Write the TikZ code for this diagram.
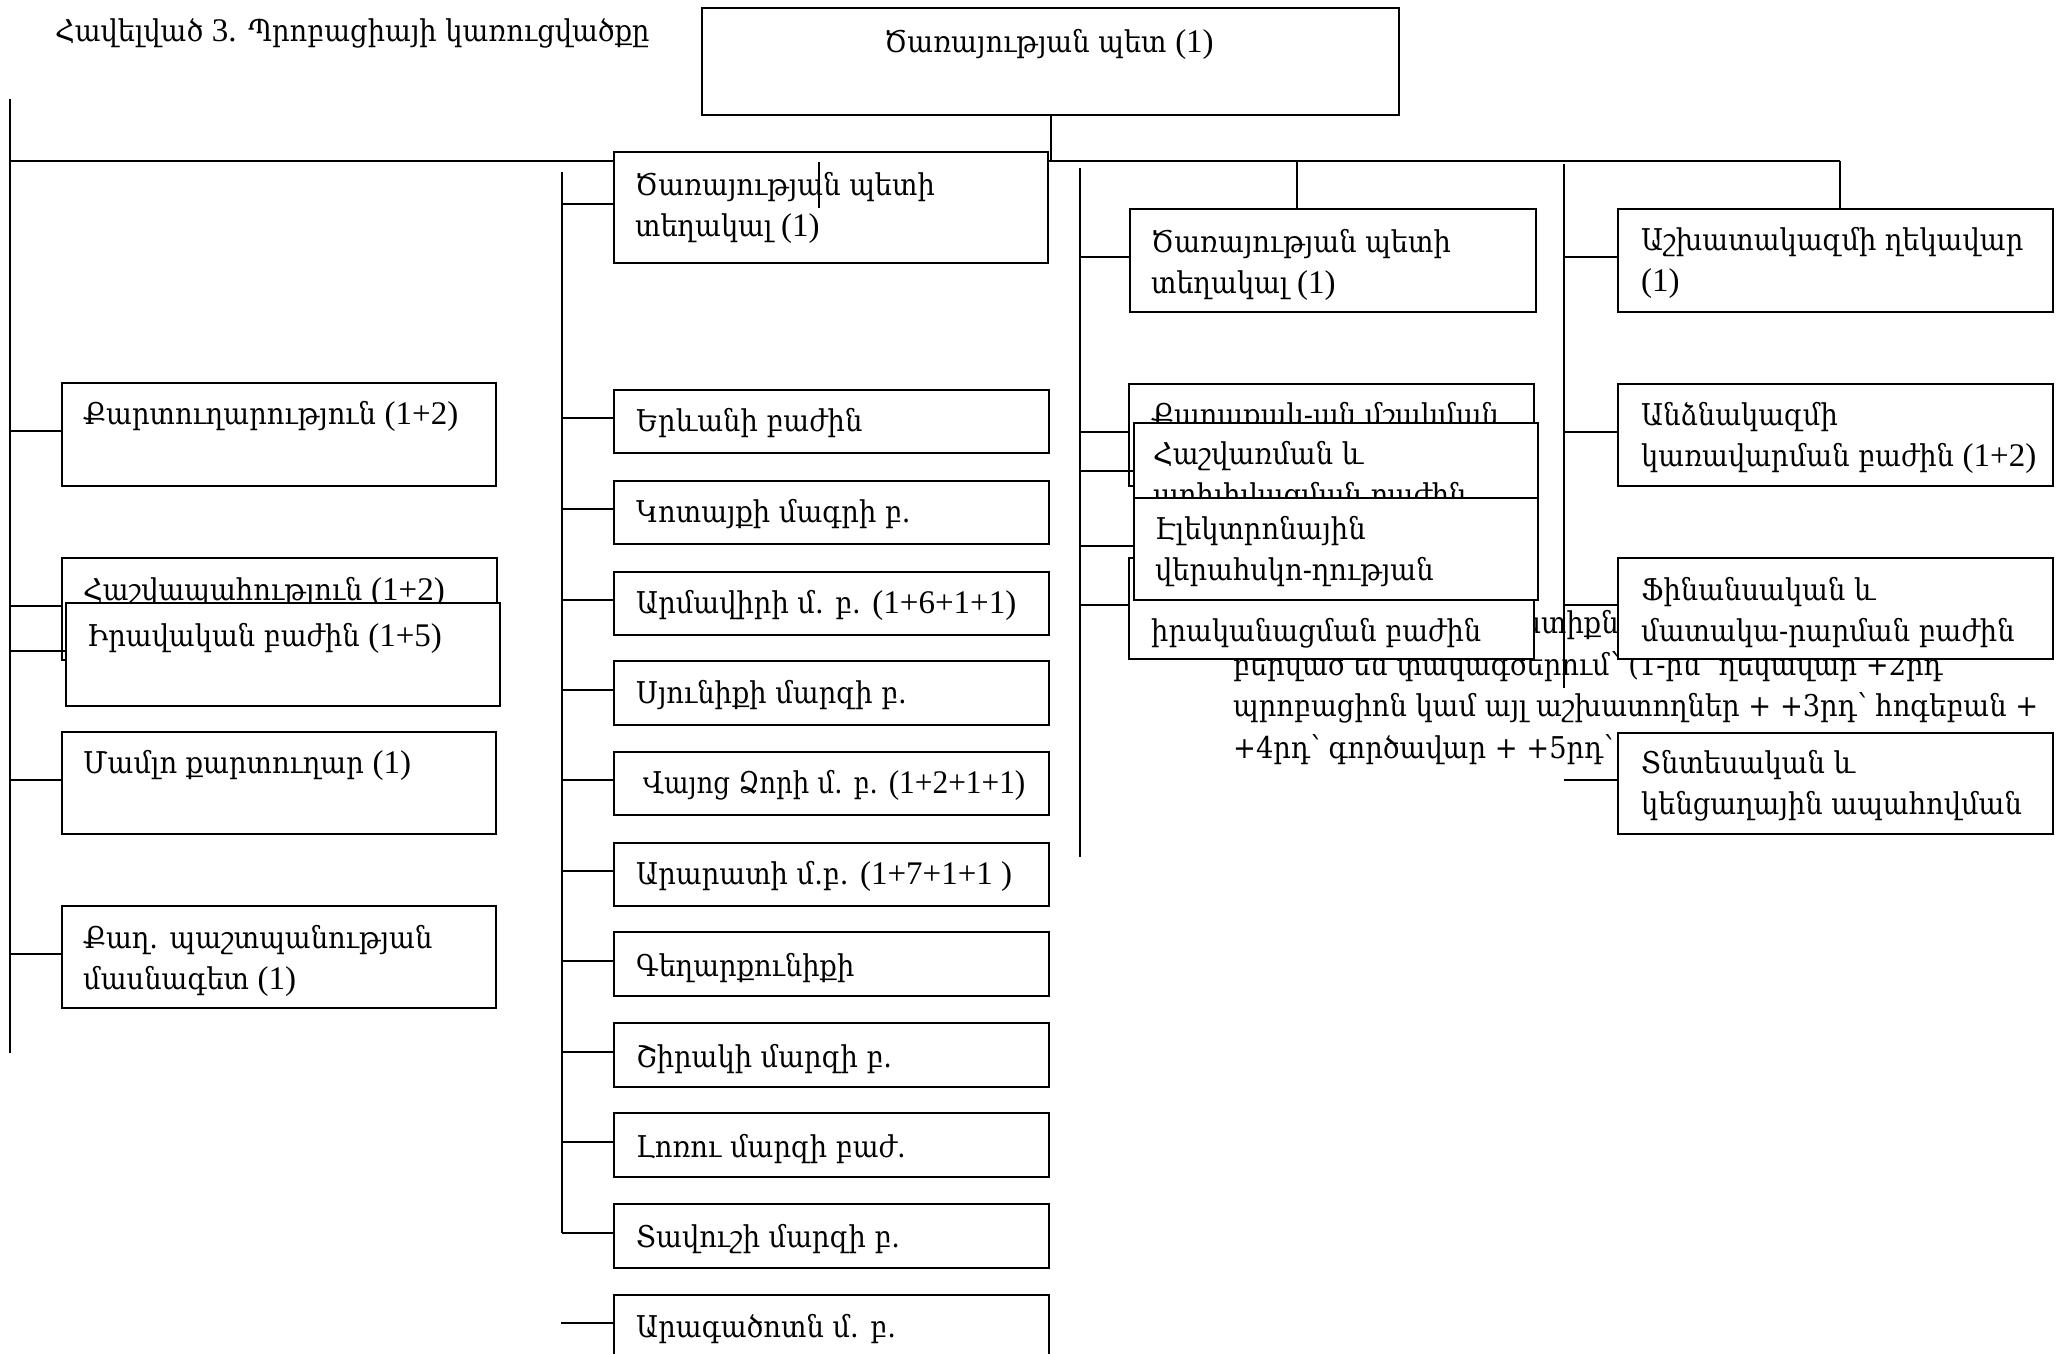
\documentclass[tikz,border=0pt]{standalone}
\usepackage{fontspec}
\usepackage{graphicx}
\setmainfont[FakeStretch=0.91]{DejaVu Serif}
\newfontfamily\lf[Scale=1.1]{Liberation Serif}
\newcommand\pn[1]{{\lf #1}}
\newcommand\bxfont{\fontsize{30pt}{41.5pt}\selectfont}
\newcommand\mkbox[5]{\node[ubox, minimum width={#4pt-#2pt}, minimum height={#5pt-#3pt}] (#1) at (#2,#3) {};}
\newcommand\mktext[4]{\node[utext] (#1) at (#2,#3) {\parbox[t]{1000pt}{\raggedright #4}};}
\newcommand\conn[2]{\draw[ln] ([yshift=3.5pt]#1.west) -- ([yshift=3.5pt]#1.west -| #2);}
\begin{document}
\begin{tikzpicture}[x=1pt,y=-1pt,
  ln/.style={line width=2pt, black},
  ubox/.style={draw=black, line width=2pt, fill=white, inner sep=0pt, anchor=north west},
  utext/.style={inner sep=0pt, anchor=base west, font=\bxfont}]
\path[use as bounding box] (0,0) rectangle (2062,1354);
\clip (0,0) rectangle (2062,1354);
\fill[white] (0,0) rectangle (2062,1354);

% bus coordinates
\coordinate (busLt) at (10,99);   \coordinate (busLb) at (10,1053);
\coordinate (busMt) at (562,172); \coordinate (busMb) at (562,1233);
\coordinate (busTt) at (1080,168); \coordinate (busTb) at (1080,857);
\coordinate (busRt) at (1564,164); \coordinate (busRb) at (1564,688);
\coordinate (hL) at (10,161); \coordinate (hR) at (1840,161);
\coordinate (busA) at (561,0);

% note text (lies under the boxes)
\node[utext] (n1) at (1541,633) {\llap{ս}տիքները};
\mktext{n2}{1233}{675}{բերված են փակագծերում՝ (1-ին՝ ղեկավար +2րդ\\պրոբացիոն կամ այլ աշխատողներ + +3րդ՝ հոգեբան +\\+4րդ՝ գործավար + +5րդ՝ վարորդ)}

% title
\node[utext] (title) at (55,42) {Հավելված \pn{3.} Պրոբացիայի կառուցվածքը};

% lines
\draw[ln] (hL) -- (hR);
\draw[ln] (busLt) -- (busLb);
\draw[ln] (busMt) -- (busMb);
\draw[ln] (busTt) -- (busTb);
\draw[ln] (busRt) -- (busRb);

% top box
\mkbox{top}{701}{7}{1398}{114}
\node[inner sep=0pt, anchor=base, font=\bxfont] (top-t) at (1049,53) {Ծառայության պետ \pn{(1)}};
\draw[ln] (top.south) -- (top.south |- hR);

% left column
\mkbox{l1}{61}{382}{495}{485}
\mktext{l1t}{83}{424}{Քարտուղարություն \pn{(1+2)}}
\mkbox{l2}{61}{557}{496}{659}
\mktext{l2t}{83}{600}{Հաշվապահություն \pn{(1+2)}}
\mkbox{l3}{65}{602}{499}{705}
\mktext{l3t}{87}{646}{Իրավական բաժին \pn{(1+5)}}
\mkbox{l4}{61}{731}{495}{833}
\mktext{l4t}{83}{773}{Մամլո քարտուղար \pn{(1)}}
\mkbox{l5}{61}{905}{495}{1007}
\mktext{l5t}{83}{948}{Քաղ. պաշտպանության\\մասնագետ \pn{(1)}}
\conn{l1}{busLt}\conn{l2}{busLt}\conn{l3}{busLt}\conn{l4}{busLt}\conn{l5}{busLt}

% middle column
\mkbox{m0}{613}{151}{1047}{262}
\mktext{m0t}{635}{195}{Ծառայության պետի\\տեղակալ \pn{(1)}}
\draw[line width=1.5pt] ([xshift=206pt,yshift=-11pt]m0.north west) -- ([xshift=206pt,yshift=-57pt]m0.north west);
\mkbox{m1}{613}{389}{1048}{452}
\mktext{m1t}{636}{431}{Երևանի բաժին}
\mkbox{m2}{613}{480}{1048}{543}
\mktext{m2t}{636}{522}{Կոտայքի մագրի բ.}
\mkbox{m3}{613}{571}{1048}{634}
\mktext{m3t}{636}{613}{Արմավիրի մ. բ. \pn{(1+6+1+1)}}
\mkbox{m4}{613}{660}{1048}{724}
\mktext{m4t}{636}{703}{Սյունիքի մարզի բ.}
\mkbox{m5}{613}{751}{1048}{814}
\mktext{m5t}{643}{793}{\scalebox{0.95}[1]{Վայոց Ձորի մ. բ. \pn{(1+2+1+1)}}}
\mkbox{m6}{613}{842}{1048}{905}
\mktext{m6t}{636}{884}{Արարատի մ.բ. \pn{(1+7+1+1 )}}
\mkbox{m7}{613}{931}{1048}{995}
\mktext{m7t}{636}{976}{Գեղարքունիքի}
\mkbox{m8}{613}{1022}{1048}{1086}
\mktext{m8t}{636}{1067}{Շիրակի մարզի բ.}
\mkbox{m9}{613}{1112}{1048}{1176}
\mktext{m9t}{636}{1157}{Լոռու մարզի բաժ.}
\mkbox{m10}{613}{1203}{1048}{1267}
\mktext{m10t}{636}{1247}{Տավուշի մարզի բ.}
\mkbox{m11}{613}{1294}{1048}{1400}
\mktext{m11t}{636}{1337}{Արագածոտն մ. բ.}
\conn{m0}{busMt}\conn{m1}{busMt}\conn{m2}{busMt}\conn{m3}{busMt}\conn{m4}{busMt}\conn{m5}{busMt}
\conn{m6}{busMt}\conn{m7}{busMt}\conn{m8}{busMt}\conn{m9}{busMt}\conn{m10}{busMt}
\draw[ln] ([yshift=-29pt]m11.north west) -- ([yshift=-29pt]m11.north west -| busA);

% third column
\mkbox{t0}{1129}{208}{1535}{311}
\mktext{t0t}{1151}{252}{Ծառայության պետի\\տեղակալ \pn{(1)}}
\draw[ln] ([xshift=168pt]t0.north west) -- ([xshift=168pt]t0.north west |- hR);
\mkbox{t1}{1128}{383}{1533}{485}
\mktext{t1t}{1151}{425}{Քաղաքակ-ան մշակման}
\mkbox{t4}{1128}{557}{1533}{658}
\mktext{t4t}{1151}{641}{իրականացման բաժին}
\mkbox{t2}{1133}{422}{1537}{524}
\mktext{t2t}{1153}{464}{Հաշվառման և\\արխիվացման բաժին}
\mkbox{t3}{1133}{497}{1537}{599}
\mktext{t3t}{1155}{539}{Էլեկտրոնային\\վերահսկո-ղության}
\conn{t0}{busTt}\conn{t1}{busTt}\conn{t2}{busTt}\conn{t3}{busTt}\conn{t4}{busTt}

% right column
\mkbox{r1}{1617}{208}{2052}{311}
\mktext{r1t}{1641}{250}{Աշխատակազմի ղեկավար\\\pn{(1)}}
\draw[ln] ([xshift=223pt]r1.north west) -- ([xshift=223pt]r1.north west |- hR);
\mkbox{r2}{1617}{383}{2052}{485}
\mktext{r2t}{1641}{425}{Անձնակազմի\\կառավարման բաժին \pn{(1+2)}}
\mkbox{r3}{1617}{557}{2052}{658}
\mktext{r3t}{1641}{600}{Ֆինանսական և\\մատակա-րարման բաժին}
\mkbox{r4}{1617}{732}{2052}{833}
\mktext{r4t}{1641}{773}{Տնտեսական և\\կենցաղային ապահովման}
\conn{r1}{busRt}\conn{r2}{busRt}\conn{r3}{busRt}\conn{r4}{busRt}
\end{tikzpicture}
\end{document}
